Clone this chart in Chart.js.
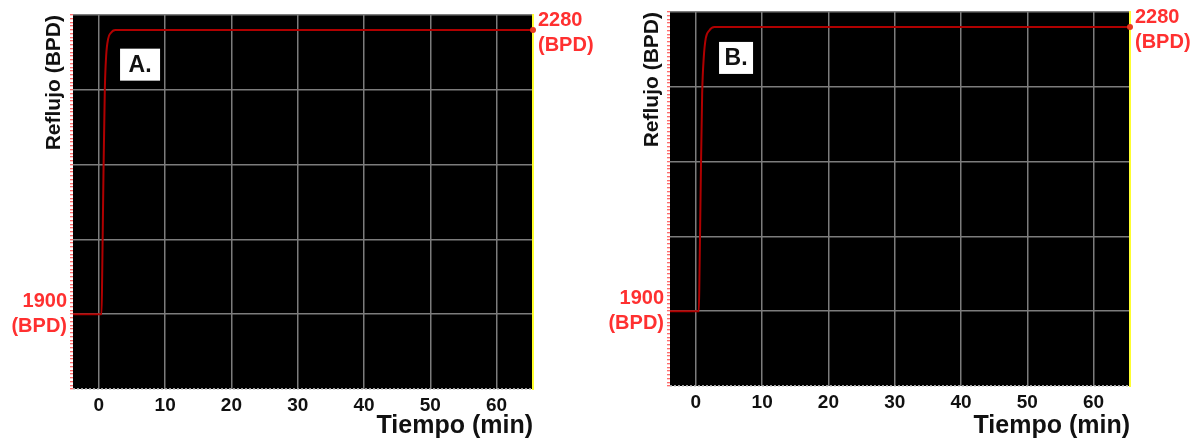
<!DOCTYPE html>
<html>
<head>
<meta charset="utf-8">
<script src="https://cdn.jsdelivr.net/npm/chart.js@4.4.0/dist/chart.umd.min.js"></script>
<style>
  html, body { margin: 0; padding: 0; background: #fff; }
  .panel { position: absolute; top: 0; width: 598px; height: 439px; }
</style>
</head>
<body>
<div class="panel" style="left:0"><canvas id="chartA"></canvas></div>
<div class="panel" style="left:598px"><canvas id="chartB"></canvas></div>
<script>
// time (min) vs reflux (BPD)
const timeA = [-3.9, 0.4, 0.5, 0.7, 0.9, 1.1, 1.4, 1.8, 2.5, 4, 65.5];
const refluxA = [1900, 1900, 1950, 2090, 2200, 2245, 2268, 2276, 2280, 2280, 2280];

const timeB = [-3.9, 0.45, 0.55, 0.75, 0.95, 1.2, 1.5, 2.0, 2.8, 4, 65.5];
const refluxB = [1900, 1900, 1950, 2080, 2190, 2240, 2265, 2275, 2280, 2280, 2280];

const timeTicks = [0, 10, 20, 30, 40, 50, 60];
const startLabel = ['1900', '(BPD)'];
const endLabel = ['2280', '(BPD)'];

const FONT = 'Arial, "Liberation Sans", sans-serif';

// black plot area
const blackArea = {
  id: 'blackArea',
  beforeDraw(chart) {
    const a = chart.chartArea;
    const ctx = chart.ctx;
    ctx.save();
    ctx.fillStyle = '#000';
    ctx.fillRect(a.left, a.top, a.right - a.left, a.bottom - a.top);
    ctx.restore();
  }
};

// white "A." / "B." tag inside the plot
const panelTag = {
  id: 'panelTag',
  afterDraw(chart, args, opts) {
    const ctx = chart.ctx;
    const px = chart.scales.x.getPixelForValue(opts.x);
    const py = chart.scales.y.getPixelForValue(opts.y);
    ctx.save();
    ctx.fillStyle = '#fff';
    ctx.fillRect(px, py, opts.w, opts.h);
    ctx.fillStyle = '#111';
    ctx.font = 'bold 23px ' + FONT;
    ctx.textAlign = 'center';
    ctx.textBaseline = 'middle';
    ctx.fillText(opts.text, px + opts.w / 2, py + opts.h / 2 + 1);
    ctx.restore();
  }
};

function noPad(scale) {
  scale.paddingTop = 0;
  scale.paddingBottom = 0;
  scale.paddingLeft = 0;
  scale.paddingRight = 0;
}

function makeChart(id, times, values, tag, padTop, leftW, rightW, bottomH) {
  const pts = times.map((t, i) => ({ x: t, y: values[i] }));
  const last = pts.length - 1;
  return new Chart(document.getElementById(id), {
    type: 'line',
    data: {
      datasets: [{
        data: pts,
        borderColor: '#b00000',
        borderWidth: 2,
        cubicInterpolationMode: 'monotone',
        pointRadius: ctx => ctx.dataIndex === last ? 3 : 0,
        pointBackgroundColor: '#e83a20',
        pointBorderWidth: 0,
        clip: false
      }]
    },
    options: {
      responsive: true,
      maintainAspectRatio: false,
      animation: false,
      layout: { padding: { left: 0, top: padTop, right: 0, bottom: 0 } },
      plugins: {
        legend: { display: false },
        tooltip: { enabled: false },
        panelTag: tag
      },
      scales: {
        x: {
          type: 'linear',
          min: -3.9,
          max: 65.5,
          afterBuildTicks: axis => { axis.ticks = timeTicks.map(v => ({ value: v })); },
          afterFit: s => { s.height = bottomH; noPad(s); },
          grid: { color: '#7c7c7c', lineWidth: 1.5, drawTicks: false },
          border: { display: false },
          ticks: { color: '#111', font: { family: FONT, size: 19, weight: 'bold' }, padding: 5, autoSkip: false, maxRotation: 0 },
          title: {
            display: true, text: 'Tiempo (min)', align: 'end', color: '#111',
            font: { family: FONT, size: 25, weight: 'bold', lineHeight: 1 },
            padding: { top: 0, bottom: 0 }
          }
        },
        y: {
          position: 'left',
          min: 1800,
          max: 2300,
          afterFit: s => { s.width = leftW; noPad(s); },
          grid: {
            color: ctx => {
              if (!ctx.tick) return 'rgba(0,0,0,0)';
              if (ctx.tick.value === 1800) return '#a0a0a0';
              return ctx.tick.value % 100 === 0 ? '#7c7c7c' : 'rgba(0,0,0,0)';
            },
            lineWidth: 1.5,
            tickColor: '#ff3b3b',
            tickLength: 3,
            tickWidth: 1
          },
          border: {
            display: false,
            dash: ctx => (ctx.tick && ctx.tick.value === 1800) ? [2, 2] : []
          },
          ticks: {
            stepSize: 5,
            autoSkip: false,
            padding: 3,
            color: '#ff3030',
            font: { family: FONT, size: 20, weight: 'bold', lineHeight: 1.25 },
            callback: v => v === 1900 ? startLabel : ''
          },
          title: {
            display: true, text: 'Reflujo (BPD)', align: 'end', color: '#111',
            font: { family: FONT, size: 21, weight: 'bold' },
            padding: { top: 42, bottom: 0 }
          }
        },
        y2: {
          position: 'right',
          min: 1800,
          max: 2300,
          afterBuildTicks: axis => { axis.ticks = [{ value: 2280 }]; },
          afterFit: s => { s.width = rightW; noPad(s); },
          grid: { drawOnChartArea: false, drawTicks: false },
          border: { color: '#ffff30', width: 2 },
          ticks: {
            padding: 5,
            labelOffset: 3,
            color: '#ff3030',
            font: { family: FONT, size: 20, weight: 'bold', lineHeight: 1.25 },
            callback: () => endLabel
          }
        }
      }
    },
    plugins: [blackArea, panelTag]
  });
}

makeChart('chartA', timeA, refluxA, { text: 'A.', x: 3.2, y: 2255, w: 40, h: 32 }, 15, 73, 65, 50);
makeChart('chartB', timeB, refluxB, { text: 'B.', x: 3.5, y: 2260, w: 34, h: 32 }, 12, 72, 66, 53);
</script>
</body>
</html>
